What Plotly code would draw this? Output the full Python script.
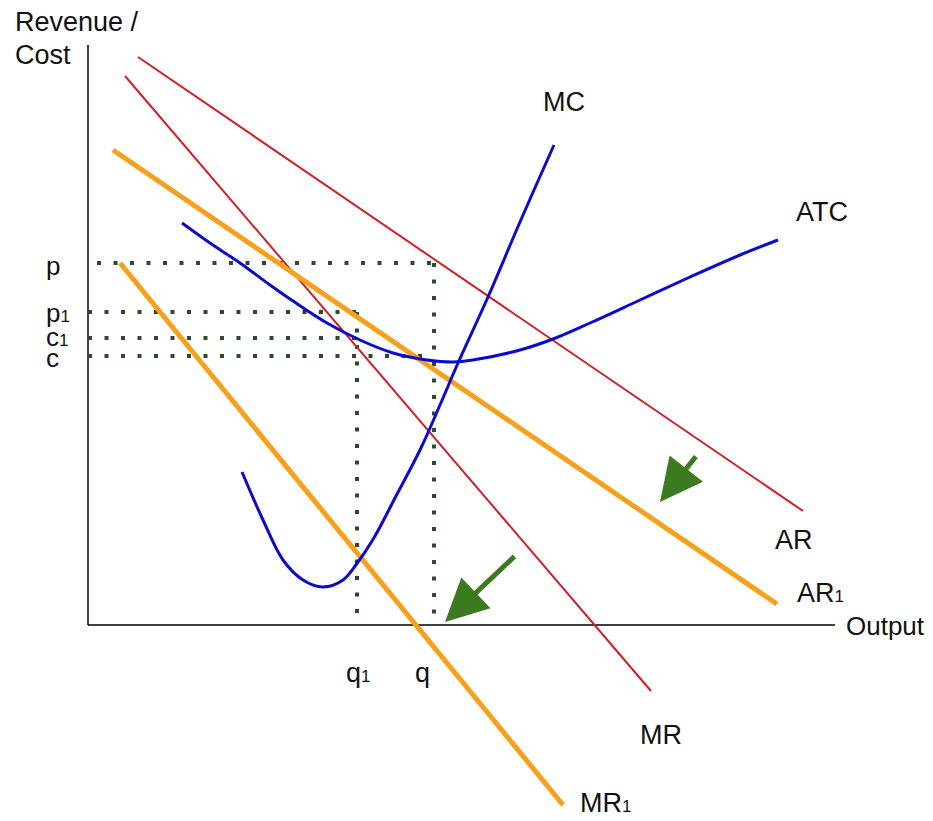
import plotly.graph_objects as go

# ---- data (x = output, y = revenue/cost; origin at axis intersection) ----
AR_x = [50, 715]
AR_y = [568, 114]
MR_x = [37, 563]
MR_y = [549, -66]
AR1_x = [25, 689]
AR1_y = [475, 21]
MR1_x = [32, 475]
MR1_y = [362, -180]

MC_x = [154, 175, 195, 215, 235, 255, 270, 287, 307, 332, 352, 370, 400, 432, 466]
MC_y = [153, 105, 65, 45, 38, 45, 63, 89, 127, 175, 220, 262, 328, 403, 480]

ATC_x = [94, 122, 152, 182, 205, 239, 272, 305, 339, 365, 385, 432, 465, 502, 552, 602, 652, 690]
ATC_y = [402, 382, 362, 340, 324, 302, 285, 272, 265, 263, 265, 275, 286, 302, 325, 348, 370, 385]

p_level, p1_level, c1_level, c_level = 362, 313, 287, 269
q, q1 = 346, 269

# green shift arrows (tail -> tip)
arrow_tails = [(428, 70), (609, 170)]
arrow_tips = [(357, 3), (572, 123)]

RED = "#d01f25"
ORANGE = "#f6a01c"
BLUE = "#0b0bd0"
GREEN = "#3b7a1e"
DOT = "#2e4a2e"
FONT = "Liberation Sans, Arial, sans-serif"

fig = go.Figure()

def line(x, y, color, width, dash=None, shape="linear"):
    fig.add_trace(go.Scatter(x=x, y=y, mode="lines",
                             line=dict(color=color, width=width, dash=dash, shape=shape),
                             hoverinfo="skip", showlegend=False))

# axes
line([0, 747], [0, 0], "black", 1.5)
line([0, 0], [0, 580], "black", 1.5)

# dotted guide lines
dd = "4px,12.5px"
line([9, q], [p_level, p_level], DOT, 4, dd)
line([q, q], [p_level, 0], DOT, 4, dd)
line([0, q1], [p1_level, p1_level], DOT, 4, dd)
line([0, q1], [c1_level, c1_level], DOT, 4, dd)
line([q1, q1], [p1_level, 0], DOT, 4, dd)
line([0, q], [c_level, c_level], DOT, 4, dd)

# revenue curves
line(AR_x, AR_y, RED, 2)
line(MR_x, MR_y, RED, 2)
line(AR1_x, AR1_y, ORANGE, 5)
line(MR1_x, MR1_y, ORANGE, 5)

# cost curves
line(MC_x, MC_y, BLUE, 3, shape="spline")
line(ATC_x, ATC_y, BLUE, 3, shape="spline")

def P(px, py):
    return px - 88, 625 - py

ann = []
def label(text, px, py, xanchor="center", size=27):
    x, y = P(px, py)
    ann.append(dict(x=x, y=y, xref="x", yref="y", text=text, showarrow=False,
                    xanchor=xanchor, yanchor="middle",
                    font=dict(family=FONT, size=size, color="#111111")))

sub = '<span style="font-size:17px">1</span>'
label("Revenue /", 13, 22, "left")
label("Cost", 13, 55, "left")
label("MC", 564, 102)
label("ATC", 794, 212, "left")
label("AR", 794, 540)
label("AR" + sub, 795, 593, "left")
label("Output", 844, 626, "left", 26)
label("MR", 661, 735)
label("MR" + sub, 578, 803, "left")
label("p", 44, 266, "left", 26)
label("p" + sub, 44, 313, "left", 26)
label("c" + sub, 44, 337, "left", 26)
label("c", 44, 358, "left", 26)
label("q" + sub, 358, 673)
label("q", 422, 673)

for (tx, ty), (hx, hy) in zip(arrow_tails, arrow_tips):
    ann.append(dict(x=hx, y=hy, ax=tx, ay=ty, xref="x", yref="y", axref="x", ayref="y",
                    showarrow=True, arrowhead=2, arrowsize=1.7, arrowwidth=5,
                    arrowcolor=GREEN, text=""))

# page body has an 8px margin, so the figure covers reference pixels 8..933 / 8..821
fig.update_layout(
    width=925, height=813,
    margin=dict(l=0, r=0, t=0, b=0),
    paper_bgcolor="white", plot_bgcolor="white",
    xaxis=dict(range=[-80, 845], visible=False, fixedrange=True),
    yaxis=dict(range=[-196, 617], visible=False, fixedrange=True),
    annotations=ann,
    showlegend=False,
)

fig.write_html("out.html")
